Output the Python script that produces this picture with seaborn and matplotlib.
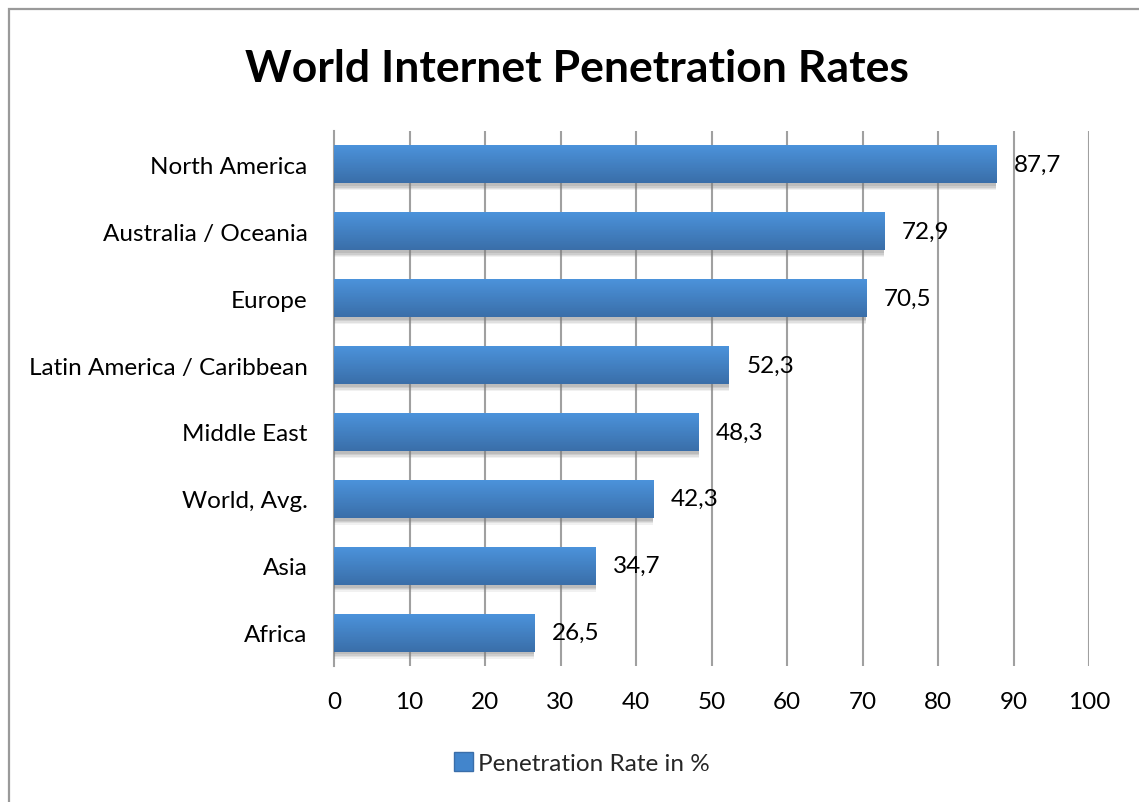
import numpy as np
import pandas as pd
import matplotlib
matplotlib.use("Agg")
import matplotlib.pyplot as plt
import matplotlib.patheffects as pe
from matplotlib.patches import Rectangle
from matplotlib.colors import LinearSegmentedColormap
import seaborn as sns

regions = ["North America", "Australia / Oceania", "Europe",
           "Latin America / Caribbean", "Middle East", "World, Avg.",
           "Asia", "Africa"]
rates = [87.7, 72.9, 70.5, 52.3, 48.3, 42.3, 34.7, 26.5]
x_ticks = [0, 10, 20, 30, 40, 50, 60, 70, 80, 90, 100]
title = "World Internet Penetration Rates"
series_name = "Penetration Rate in %"

df = pd.DataFrame({"region": regions, "rate": rates})

sns.set_theme(style="white")
plt.rcParams["font.family"] = ["Lato", "DejaVu Sans"]

fig = plt.figure(figsize=(11.39, 8.03), dpi=100)
ax = fig.add_axes([334 / 1139, 1 - 667 / 803, 755 / 1139, 535 / 803])

sns.barplot(data=df, x="rate", y="region", orient="h", ax=ax,
            color="#4285CC", width=0.57, saturation=1, zorder=3)

# vertical gradient fill (light top, darker bottom) and soft shadow under each bar
grad = LinearSegmentedColormap.from_list("bar", ["#4C94DC", "#3A6EA9"])
shadow = [pe.SimplePatchShadow(offset=(0, -k), shadow_rgbFace="#7A7A7A", alpha=a)
          for k, a in [(5, 0.10), (4, 0.14), (3, 0.18), (2, 0.2)]]
for p in ax.patches:
    p.set_edgecolor("none")
    p.set_path_effects(shadow + [pe.Normal()])
    x0, y0 = p.get_x(), p.get_y()
    w, h = p.get_width(), p.get_height()
    im = ax.imshow(np.linspace(0, 1, 64).reshape(-1, 1), cmap=grad, aspect="auto",
                   extent=(x0, x0 + w, y0 + h, y0), origin="upper", zorder=4,
                   interpolation="bilinear")
    im.set_clip_path(p)

ax.set_xlim(0, 100)
ax.set_ylim(len(regions) - 0.5, -0.5)
ax.set_xticks(x_ticks)
ax.set_xticklabels([str(t) for t in x_ticks])
ax.set_xlabel("")
ax.set_ylabel("")
ax.tick_params(axis="both", length=0, labelsize=17.5, colors="black")
ax.tick_params(axis="x", pad=18)
ax.tick_params(axis="y", pad=19)

ax.grid(False)
for t in x_ticks[1:]:
    ax.axvline(t, color="#A0A0A0", lw=1.5, zorder=1)
for s in ["top", "right", "bottom"]:
    ax.spines[s].set_visible(False)
ax.spines["left"].set_color("#A0A0A0")
ax.spines["left"].set_linewidth(1.5)
ax.spines["left"].set_zorder(2)

for i, v in enumerate(rates):
    ax.text(v + 2.3, i, f"{v:.1f}".replace(".", ","), va="center", ha="left",
            fontsize=17.5, color="black", zorder=6)

fig.text(577 / 1139, 1 - 69 / 803, title, ha="center", va="center",
         fontsize=32, fontweight="bold", color="black")

handle = Rectangle((0, 0), 1, 1, facecolor="#4285CC", edgecolor="#3A6EA9")
fig.legend([handle], [series_name], loc="center", bbox_to_anchor=(582 / 1139, 1 - 764 / 803),
           frameon=False, fontsize=17.5, handlelength=0.8, handleheight=0.8,
           handletextpad=0.2)

# outer chart frame
fig.patches.append(Rectangle((8.5 / 1139, -0.05), 1.2, 1 - 9.5 / 803 + 0.05,
                             transform=fig.transFigure, fill=False,
                             edgecolor="#9A9A9A", lw=1.6))

fig.savefig("out.png", dpi=100, facecolor="white")
